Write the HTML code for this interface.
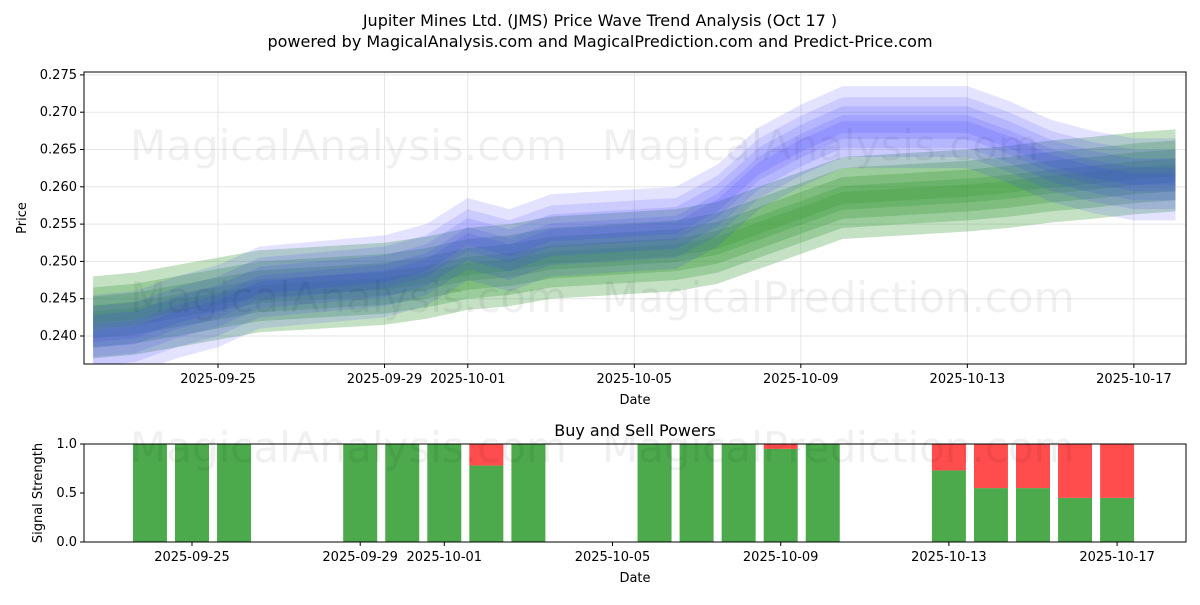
<!DOCTYPE html>
<html><head><meta charset="utf-8"><style>
body{margin:0;background:#fff;font-family:"Liberation Sans","DejaVu Sans",sans-serif}
svg text{font-family:"DejaVu Sans","Liberation Sans",sans-serif}
</style></head><body>
<svg id="c" width="1200" height="600" xmlns="http://www.w3.org/2000/svg"></svg>
<script>
const bandDates=["2025-09-22","2025-09-23","2025-09-24","2025-09-25","2025-09-26","2025-09-29","2025-09-30","2025-10-01","2025-10-02","2025-10-03","2025-10-06","2025-10-07","2025-10-08","2025-10-09","2025-10-10","2025-10-13","2025-10-14","2025-10-15","2025-10-16","2025-10-17","2025-10-18"];
const blueCenter=[0.2400,0.2405,0.2425,0.2440,0.2465,0.2480,0.2495,0.2530,0.2515,0.2535,0.2545,0.2575,0.2625,0.2655,0.2680,0.2680,0.2660,0.2635,0.2620,0.2610,0.2610];
const greenCenter=[0.2425,0.2430,0.2440,0.2450,0.2460,0.2470,0.2478,0.2490,0.2495,0.2505,0.2515,0.2525,0.2545,0.2565,0.2585,0.2595,0.2600,0.2607,0.2612,0.2618,0.2622];
const bandWidths=[0.0055,0.0040,0.0028,0.0016,0.0008];
const yTicks=[0.240,0.245,0.250,0.255,0.260,0.265,0.270,0.275];
const xTickDates=["2025-09-25","2025-09-29","2025-10-01","2025-10-05","2025-10-09","2025-10-13","2025-10-17"];
const barDates=["2025-09-24","2025-09-25","2025-09-26","2025-09-29","2025-09-30","2025-10-01","2025-10-02","2025-10-03","2025-10-06","2025-10-07","2025-10-08","2025-10-09","2025-10-10","2025-10-13","2025-10-14","2025-10-15","2025-10-16","2025-10-17"];
const buyPower=[1,1,1,1,1,1,0.78,1,1,1,1,0.95,1,0.73,0.55,0.55,0.45,0.45];
const sigTicks=[0.0,0.5,1.0];

const NS="http://www.w3.org/2000/svg",svg=document.getElementById('c');
function el(t,a,p){const e=document.createElementNS(NS,t);for(const k in a)e.setAttribute(k,a[k]);(p||svg).appendChild(e);return e;}
function day(d){return (Date.parse(d)-Date.parse("2025-09-25"))/864e5;}
const T={l:84,r:1186,t:72,b:364};
const xT=d=>218+day(d)*41.63;
const yT=v=>336-(v-0.240)/0.005*37.3;
const B={l:84,r:1186,t:444,b:542};
const xB=d=>192+day(d)*42.05;
const yB=v=>542-v*98;

let t=el('text',{x:600,y:26,'text-anchor':'middle','font-size':16,fill:'#000'});t.textContent="Jupiter Mines Ltd. (JMS) Price Wave Trend Analysis (Oct 17 )";

t=el('text',{x:600,y:47,'text-anchor':'middle','font-size':16,fill:'#000'});t.textContent="powered by MagicalAnalysis.com and MagicalPrediction.com and Predict-Price.com";


const clipD=el('defs',{});
el('rect',{x:T.l,y:T.t,width:T.r-T.l,height:T.b-T.t},el('clipPath',{id:'ct'},clipD));
const gT=el('g',{'clip-path':'url(#ct)'});

yTicks.forEach(v=>el('line',{x1:T.l,x2:T.r,y1:yT(v),y2:yT(v),stroke:'#e6e6e6'},gT));
xTickDates.forEach(d=>el('line',{x1:xT(d),x2:xT(d),y1:T.t,y2:T.b,stroke:'#e6e6e6'},gT));
function band(center,w,color,op,name){
  let up=bandDates.map((d,i)=>xT(d)+','+yT(center[i]+w));
  let lo=bandDates.map((d,i)=>xT(d)+','+yT(center[i]-w)).reverse();
  const p=el('polygon',{points:up.concat(lo).join(' '),fill:color,'fill-opacity':op},gT);
  
}
bandWidths.forEach(w=>band(greenCenter,w,'#3a9a3a',0.3,'green-band'));
bandWidths.forEach(w=>band(blueCenter,w,'#3a3aff',0.14,'blue-band'));
[[130,160,'MagicalAnalysis.com'],[602,160,'MagicalAnalysis.com'],[130,312,'MagicalAnalysis.com'],[602,312,'MagicalPrediction.com']].forEach(a=>{
 const w=el('text',{x:a[0],y:a[1],'font-size':42,fill:'#000','fill-opacity':0.06},gT);w.textContent=a[2];
 });
el('rect',{x:T.l,y:T.t,width:T.r-T.l,height:T.b-T.t,fill:'none',stroke:'#000'});
yTicks.forEach(v=>{el('line',{x1:T.l-4,x2:T.l,y1:yT(v),y2:yT(v),stroke:'#000'});
 const s=el('text',{x:T.l-7,y:yT(v)+4,'text-anchor':'end','font-size':13});s.textContent=v.toFixed(3);
 });
xTickDates.forEach(d=>{el('line',{x1:xT(d),x2:xT(d),y1:T.b,y2:T.b+4,stroke:'#000'});
 const s=el('text',{x:xT(d),y:T.b+19,'text-anchor':'middle','font-size':13});s.textContent=d;
 });
t=el('text',{x:635,y:404,'text-anchor':'middle','font-size':13});t.textContent='Date';
t=el('text',{x:26,y:218,'text-anchor':'middle','font-size':13,transform:'rotate(-90 26 218)'});t.textContent='Price';

t=el('text',{x:635,y:436,'text-anchor':'middle','font-size':16});t.textContent='Buy and Sell Powers';
const gB=el('g',{});
barDates.forEach((d,i)=>{
 const x=xB(d)-17,b=buyPower[i];
 const g=el('rect',{x:x,y:yB(b),width:34,height:yB(0)-yB(b),fill:'#4caa4c'},gB);
 
 if(b<1){const r=el('rect',{x:x,y:yB(1),width:34,height:yB(b)-yB(1),fill:'#ff4c4c'},gB);
 }
});
[[130,462,'MagicalAnalysis.com'],[602,462,'MagicalPrediction.com']].forEach(a=>{
 const w=el('text',{x:a[0],y:a[1],'font-size':42,fill:'#000','fill-opacity':0.06});w.textContent=a[2];
 });
el('rect',{x:B.l,y:B.t,width:B.r-B.l,height:B.b-B.t,fill:'none',stroke:'#000'});
sigTicks.forEach(v=>{el('line',{x1:B.l-4,x2:B.l,y1:yB(v),y2:yB(v),stroke:'#000'});
 const s=el('text',{x:B.l-7,y:yB(v)+4,'text-anchor':'end','font-size':13});s.textContent=v.toFixed(1);
 });
xTickDates.forEach(d=>{el('line',{x1:xB(d),x2:xB(d),y1:B.b,y2:B.b+4,stroke:'#000'});
 const s=el('text',{x:xB(d),y:B.b+19,'text-anchor':'middle','font-size':13});s.textContent=d;
 });
t=el('text',{x:635,y:582,'text-anchor':'middle','font-size':13});t.textContent='Date';
t=el('text',{x:42,y:493,'text-anchor':'middle','font-size':13,transform:'rotate(-90 42 493)'});t.textContent='Signal Strength';
</script>
</body></html>
